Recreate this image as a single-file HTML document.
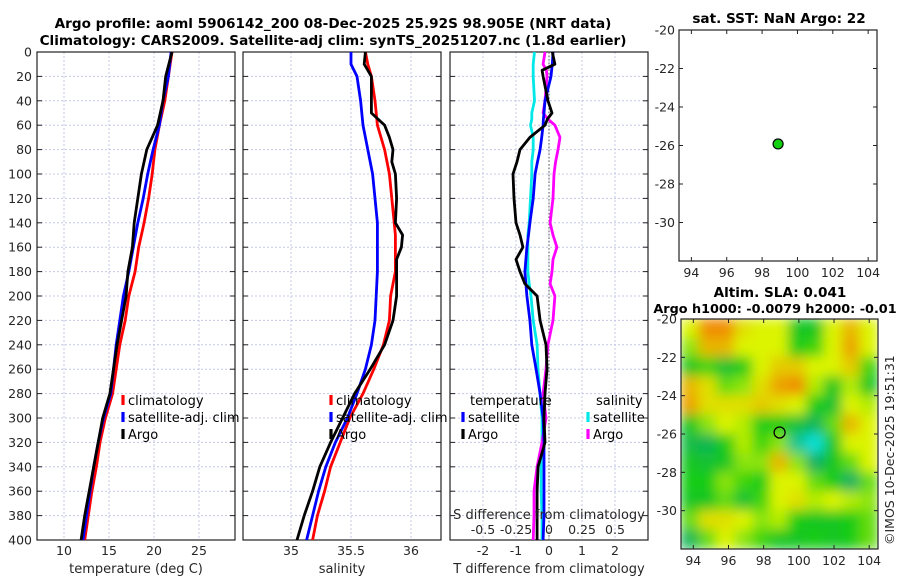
<!DOCTYPE html>
<html><head><meta charset="utf-8"><style>
body{margin:0;background:#fff;}
svg{display:block;font-family:"DejaVu Sans","Liberation Sans",sans-serif;}
.tk{font-size:12.5px;fill:#262626;}
.tt{font-size:13.6px;font-weight:bold;fill:#000;}
.lg{font-size:13px;fill:#000;}
</style></head><body>
<svg id="fig" width="900" height="580" viewBox="0 0 900 580">
<defs>
<filter id="blur" x="0" y="0" width="1" height="1"><feGaussianBlur stdDeviation="6" edgeMode="duplicate"/></filter>
<clipPath id="mapclip"><rect x="681" y="319" width="197" height="230"/></clipPath>
</defs>
<text class="tt" x="333" y="28" text-anchor="middle">Argo profile: aoml 5906142_200 08-Dec-2025 25.92S 98.905E (NRT data)</text>
<text class="tt" x="333" y="45" text-anchor="middle">Climatology: CARS2009. Satellite-adj clim: synTS_20251207.nc (1.8d earlier)</text>
<text class="tt" x="779" y="23" text-anchor="middle">sat. SST: NaN Argo: 22</text>
<text class="tt" x="780" y="297" text-anchor="middle">Altim. SLA: 0.041</text>
<text class="tt" x="775" y="313" text-anchor="middle" style="font-size:12.8px">Argo h1000: -0.0079 h2000: -0.01</text>
<text class="tk" transform="translate(894,545) rotate(-90)">©IMOS 10-Dec-2025 19:51:31</text>
<g id="g"></g>
</svg>
<script>
// ---- data ----
const depths = [0,20,40,60,80,100,120,140,160,180,200,220,240,260,280,300,320,340,360,380,400];
const climT = [22.0,21.6,21.2,20.6,20.1,19.8,19.4,18.9,18.3,17.9,17.2,16.8,16.2,15.8,15.4,14.6,14.0,13.6,13.1,12.7,12.3];
const satT  = [21.9,21.6,21.0,20.6,19.9,19.3,18.8,18.2,17.7,17.2,16.6,16.2,15.8,15.5,15.2,14.4,13.8,13.3,12.9,12.5,12.1];
const argoT = [22.0,21.3,21.0,20.4,19.2,18.6,18.2,17.8,17.6,17.1,16.9,16.4,15.9,15.5,15.1,14.3,13.8,13.3,12.8,12.3,11.9];
const salDepths = [0,10,20,40,50,60,70,80,90,100,120,140,150,160,170,180,200,220,240,260,280,300,320,340,360,380,400];
const climS = [35.62,35.64,35.67,35.70,35.71,35.72,35.75,35.78,35.80,35.82,35.84,35.86,35.87,35.87,35.87,35.87,35.83,35.82,35.77,35.69,35.60,35.49,35.41,35.33,35.28,35.22,35.18];
const satS  = [35.50,35.50,35.55,35.58,35.59,35.60,35.62,35.64,35.66,35.68,35.70,35.72,35.72,35.72,35.72,35.72,35.71,35.70,35.67,35.62,35.55,35.47,35.37,35.29,35.23,35.18,35.13];
const argoS = [35.62,35.61,35.67,35.67,35.67,35.78,35.82,35.85,35.84,35.87,35.88,35.87,35.93,35.92,35.88,35.88,35.88,35.85,35.78,35.66,35.53,35.43,35.33,35.24,35.18,35.11,35.05];
const diffDepths = [0,10,15,20,40,50,55,60,70,80,90,100,120,140,150,160,170,180,190,200,220,240,260,280,300,320,340,360,380,400];
const satTdiff  = [0.12,0.10,0.08,0.06,-0.12,-0.15,-0.17,-0.18,-0.22,-0.27,-0.35,-0.42,-0.48,-0.58,-0.62,-0.67,-0.70,-0.73,-0.70,-0.67,-0.58,-0.52,-0.39,-0.27,-0.18,-0.15,-0.15,-0.15,-0.15,-0.18];
const argoTdiff = [0.10,0.18,-0.21,-0.18,-0.03,0.09,-0.05,-0.12,-0.58,-0.88,-0.97,-1.09,-1.06,-1.00,-0.88,-0.79,-1.00,-0.88,-0.73,-0.36,-0.27,-0.09,-0.06,-0.12,-0.15,-0.12,-0.33,-0.36,-0.36,-0.36];
const satSdiff  = [-0.11,-0.12,-0.12,-0.12,-0.11,-0.13,-0.13,-0.14,-0.12,-0.12,-0.13,-0.13,-0.14,-0.15,-0.16,-0.16,-0.16,-0.16,-0.15,-0.136,-0.12,-0.09,-0.083,-0.068,-0.053,-0.053,-0.06,-0.06,-0.053,-0.053];
const argoSdiff = [-0.03,-0.045,-0.02,-0.015,-0.03,-0.045,-0.008,0.045,0.083,0.068,0.05,0.038,0.03,0.008,0.03,0.06,0.03,0.023,0.008,0.045,0.03,-0.008,-0.023,-0.045,-0.023,-0.053,-0.09,-0.114,-0.114,-0.12];
const depthTicks = [0,20,40,60,80,100,120,140,160,180,200,220,240,260,280,300,320,340,360,380,400];
const tempTicks = [10,15,20,25];
const salTicks = [35,35.5,36];
const tdiffTicks = [-2,-1,0,1,2];
const sdiffTicks = [-0.5,-0.25,0,0.25,0.5];
const sdiffLabels = ['-0.5','-0.25','0','0.25','0.5'];
const lonTicks = [94,96,98,100,102,104];
const latTicks = [-20,-22,-24,-26,-28,-30];
const argoLon = [98.905];
const argoLat = [-25.92];
// SLA grid (rows lat -20..-32 step 1, cols lon 93.3.. step ~1.02)
const slaGrid = [
[0.5,1.0,1.0,0.6,0.5,0.5,-0.1,-0.1,0.5,0.8,0.5],
[0.3,0.8,0.8,0.5,0.5,0.5,0.0,0.1,0.5,0.9,0.5],
[-0.1,0.1,-0.2,0.0,0.5,0.7,0.7,0.5,0.5,0.7,0.1],
[0.8,0.6,0.2,0.3,0.6,0.9,1.0,0.4,-0.1,0.4,-0.1],
[0.9,0.6,0.6,0.6,0.7,0.6,0.5,0.0,-0.2,0.5,0.4],
[-0.1,0.3,0.5,0.4,0.0,0.0,-0.2,-0.4,0.2,0.8,0.5],
[-0.3,-0.4,0.0,0.4,0.1,0.3,-0.7,-1.0,-0.1,0.5,0.5],
[-0.1,-0.2,-0.1,0.3,0.3,0.8,0.3,-0.5,-0.1,0.2,0.5],
[0.0,0.0,0.3,0.1,0.0,0.5,0.5,0.2,0.0,-0.5,0.2],
[-0.1,-0.1,0.2,-0.2,0.1,0.5,0.6,0.4,0.5,0.4,0.3],
[0.2,0.6,0.6,0.5,0.3,0.4,0.0,-0.1,-0.1,0.0,0.2],
[-0.4,0.2,0.5,0.3,0.1,-0.1,-0.1,0.0,-0.1,0.0,0.2]];

const NS='http://www.w3.org/2000/svg';
const G=document.getElementById('g');
function mk(tag,attrs,parent,text){const e=document.createElementNS(NS,tag);for(const k in attrs)e.setAttribute(k,attrs[k]);if(text!==undefined)e.textContent=text;(parent||G).appendChild(e);return e;}
const Y0=52,Y1=540;
const yD=d=>Y0+(d/400)*(Y1-Y0);
const panels=[{x0:37,x1:235,lo:7,hi:29},{x0:243,x1:441,lo:34.6,hi:36.25},{x0:450,x1:648,lo:-3,hi:3}];
function sx(p,v){return p.x0+(v-p.lo)/(p.hi-p.lo)*(p.x1-p.x0);}
const sdP={x0:450,x1:648,lo:-0.75,hi:0.75};

function panelFrame(p,ticks,name,showY){
  const grp=mk('g',{});
  
  
  ticks.forEach(t=>{const x=sx(p,t);mk('line',{x1:x,x2:x,y1:Y0,y2:Y1,stroke:'#c4c8e6','stroke-width':1,'stroke-dasharray':'2,2'},grp);});
  depthTicks.forEach(d=>{const y=yD(d);mk('line',{x1:p.x0,x2:p.x1,y1:y,y2:y,stroke:'#c4c8e6','stroke-width':1,'stroke-dasharray':'2,2'},grp);
    mk('line',{x1:p.x0,x2:p.x0+5,y1:y,y2:y,stroke:'#222'},grp);mk('line',{x1:p.x1-5,x2:p.x1,y1:y,y2:y,stroke:'#222'},grp);
    if(showY){mk('text',{x:p.x0-5,y:y+4.5,'text-anchor':'end',class:'tk'},grp,String(d));}});
  mk('rect',{x:p.x0,y:Y0,width:p.x1-p.x0,height:Y1-Y0,fill:'none',stroke:'#222','stroke-width':1.2},grp);
  return grp;
}
function profile(p,vals,ds,color,name,scale){
  const pts=vals.map((v,i)=>(scale?sx(scale,v):sx(p,v)).toFixed(1)+','+yD(ds[i]).toFixed(1)).join(' ');
  const e=mk('polyline',{points:pts,fill:'none',stroke:color,'stroke-width':2.8,'stroke-linejoin':'round'});
  
  
}
function xLabels(p,ticks,labels,y){ticks.forEach((t,i)=>{mk('text',{x:sx(p,t),y:y,'text-anchor':'middle',class:'tk'},G,labels?labels[i]:String(t));});}

// Panel 1
panelFrame(panels[0],tempTicks,'temperature-panel',true);
profile(panels[0],climT,depths,'#ff0000','climatology-temp-line');
profile(panels[0],satT,depths,'#0000ff','satellite-temp-line');
profile(panels[0],argoT,depths,'#000000','argo-temp-line');
xLabels(panels[0],tempTicks,null,555);
let t1=mk('text',{x:136,y:573,'text-anchor':'middle',class:'tk',style:'font-size:13px'},G,'temperature (deg C)');


// Panel 2
panelFrame(panels[1],salTicks,'salinity-panel',false);
profile(panels[1],climS,salDepths,'#ff0000','climatology-salinity-line');
profile(panels[1],satS,salDepths,'#0000ff','satellite-salinity-line');
profile(panels[1],argoS,salDepths,'#000000','argo-salinity-line');
xLabels(panels[1],salTicks,null,555);
let t2=mk('text',{x:342,y:573,'text-anchor':'middle',class:'tk',style:'font-size:13px'},G,'salinity');


// Panel 3
panelFrame(panels[2],tdiffTicks,'difference-panel',false);
mk('line',{x1:sx(panels[2],0),x2:sx(panels[2],0),y1:Y0,y2:Y1,stroke:'#555','stroke-dasharray':'1.5,2','stroke-width':1});
profile(panels[2],satSdiff,diffDepths,'#00e8e8','satellite-salinity-diff-line',sdP);
profile(panels[2],argoSdiff,diffDepths,'#ff00ff','argo-salinity-diff-line',sdP);
profile(panels[2],satTdiff,diffDepths,'#0000ff','satellite-temp-diff-line');
profile(panels[2],argoTdiff,diffDepths,'#000000','argo-temp-diff-line');
xLabels(panels[2],tdiffTicks,null,555);
let t3=mk('text',{x:549,y:573,'text-anchor':'middle',class:'tk',style:'font-size:13px'},G,'T difference from climatology');

let t4=mk('text',{x:549,y:519,'text-anchor':'middle',class:'tk',style:'font-size:13px'},G,'S difference from climatology');

sdiffTicks.forEach((t,i)=>{mk('text',{x:sx(sdP,t),y:534,'text-anchor':'middle',class:'tk'},G,sdiffLabels[i]);});

// legends
function legend(x,y,items,name){
  const grp=mk('g',{});
  
  
  items.forEach((it,i)=>{
    if(it[1])mk('line',{x1:x,x2:x,y1:y+i*17-10,y2:y+i*17,stroke:it[1],'stroke-width':3.2},grp);
    mk('text',{x:x+(it[1]?5:0),y:y+i*17,class:'lg'},grp,it[0]);
  });
}
legend(123,405,[['climatology','#ff0000'],['satellite-adj. clim','#0000ff'],['Argo','#000000']],'temperature-legend');
legend(331,405,[['climatology','#ff0000'],['satellite-adj. clim','#0000ff'],['Argo','#000000']],'salinity-legend');
legend(470,405,[['temperature',null]],'diff-legend-temperature-header');
legend(463,422,[['satellite','#0000ff'],['Argo','#000000']],'diff-legend-temperature');
legend(596,405,[['salinity',null]],'diff-legend-salinity-header');
legend(588,422,[['satellite','#00e8e8'],['Argo','#ff00ff']],'diff-legend-salinity');

// maps
const LON0=93.3,LON1=104.5;
function mapAxes(box,name){
  const lx=v=>box.x0+(v-LON0)/(LON1-LON0)*(box.x1-box.x0);
  const ly=v=>box.y0+(-20-v)/12*(box.y1-box.y0);
  const grp=mk('g',{});
  
  
  mk('rect',{x:box.x0,y:box.y0,width:box.x1-box.x0,height:box.y1-box.y0,fill:'none',stroke:'#222','stroke-width':1.2},grp);
  lonTicks.forEach(t=>{const x=lx(t);mk('line',{x1:x,x2:x,y1:box.y0,y2:box.y0+4,stroke:'#222'},grp);mk('line',{x1:x,x2:x,y1:box.y1-4,y2:box.y1,stroke:'#222'},grp);
    mk('text',{x:x,y:box.y1+16,'text-anchor':'middle',class:'tk'},grp,String(t));});
  latTicks.forEach(t=>{const y=ly(t);mk('line',{x1:box.x0,x2:box.x0+4,y1:y,y2:y,stroke:'#222'},grp);mk('line',{x1:box.x1-4,x2:box.x1,y1:y,y2:y,stroke:'#222'},grp);
    mk('text',{x:box.x0-4,y:y+4.5,'text-anchor':'end',class:'tk'},grp,String(t));});
  return {lx,ly};
}
// SLA heatmap
const b2={x0:681,x1:878,y0:319,y1:549};
function cmap(v){
  const stops=[[-1,[16,224,216]],[-0.5,[16,176,100]],[0,[20,204,20]],[0.5,[220,244,0]],[1,[240,140,0]]];
  v=Math.max(-1,Math.min(1,v));
  for(let i=0;i<stops.length-1;i++){const a=stops[i],b=stops[i+1];if(v<=b[0]){const f=(v-a[0])/(b[0]-a[0]);return 'rgb('+a[1].map((c,k)=>Math.round(c+(b[1][k]-c)*f)).join(',')+')';}}
  return 'rgb(240,140,0)';
}
const hm=mk('g',{'clip-path':'url(#mapclip)'});


const hmInner=mk('g',{filter:'url(#blur)'},hm);
mk('rect',{x:b2.x0,y:b2.y0,width:b2.x1-b2.x0,height:b2.y1-b2.y0,fill:'#14cc14'},hmInner);
const nr=slaGrid.length,nc=slaGrid[0].length;
const cw=(b2.x1-b2.x0)/nc,ch=(b2.y1-b2.y0)/nr;
slaGrid.forEach((row,r)=>row.forEach((v,c)=>{
  const e=mk('rect',{x:b2.x0+c*cw-0.5,y:b2.y0+r*ch-0.5,width:cw+1,height:ch+1,fill:cmap(v)},hmInner);
  
  
}));
const m2=mapAxes(b2,'sla-map');
const ap2=mk('circle',{cx:m2.lx(argoLon[0]),cy:m2.ly(argoLat[0]),r:5.5,fill:'none',stroke:'#000','stroke-width':1.3});


// SST map
const b1={x0:679,x1:877,y0:30,y1:261};
const m1=mapAxes(b1,'sst-map');
const ap1=mk('circle',{cx:m1.lx(argoLon[0]),cy:m1.ly(argoLat[0]),r:5,fill:'#10d010',stroke:'#000','stroke-width':1.2});


</script>
</body></html>
